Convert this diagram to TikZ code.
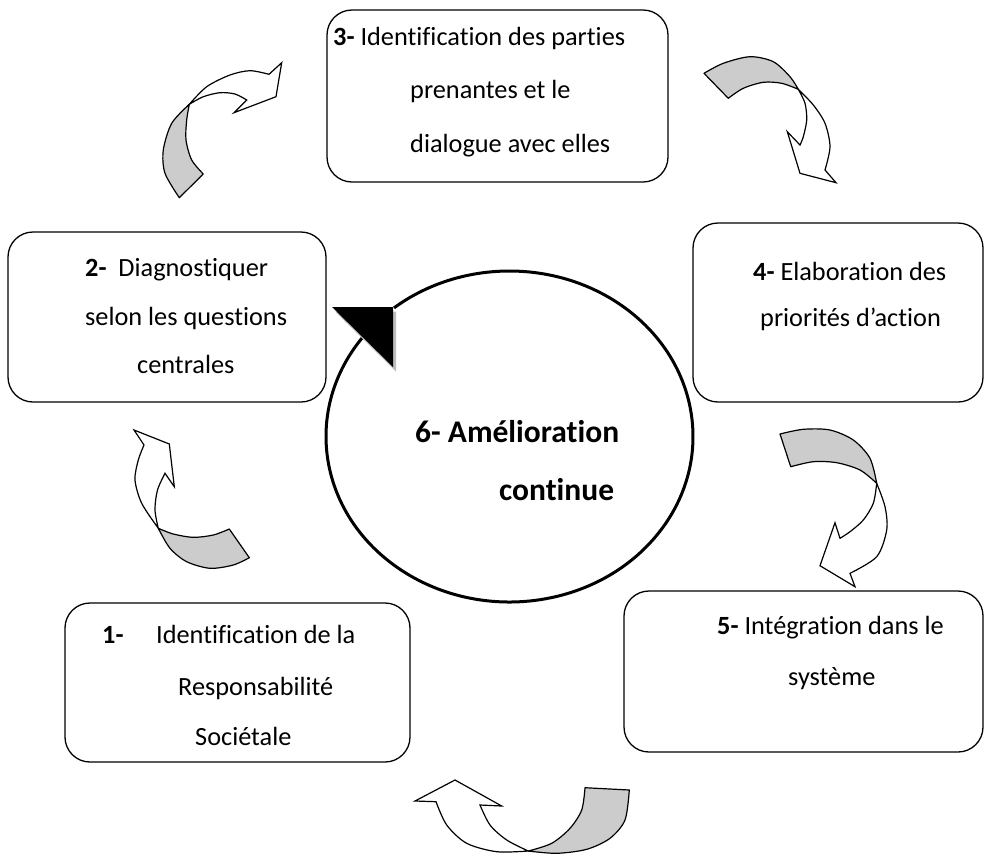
\documentclass[tikz,border=0pt]{standalone}
\usepackage{fontspec}
\setmainfont{Carlito}[Ligatures={NoCommon}]
\definecolor{backgray}{HTML}{CCCCCC}
\definecolor{shadowgray}{HTML}{BDBDBD}
\begin{document}
\begin{tikzpicture}[x=1pt, y=-1pt,
  stage/.style={draw, rounded corners=25pt, line width=1.3pt, inner sep=0pt},
  lbl/.style={anchor=base west, inner sep=0pt, font=\fontsize{26.3}{30}\selectfont},
  biglbl/.style={anchor=base west, inner sep=0pt, font=\fontsize{31.5}{36}\selectfont\bfseries},
  ring/.style={line width=3pt},
  bandback/.style={fill=backgray, draw, line width=1.2pt, line join=round},
  bandfront/.style={fill=white, draw, line width=1.2pt, line join=miter}]
\useasboundingbox (0,0) rectangle (985,855);

% stage boxes
\node[stage, minimum width=345pt, minimum height=159pt] (b1) at (237.5,682.5) {};
\node[stage, minimum width=318pt, minimum height=170pt] (b2) at (167,317) {};
\node[stage, minimum width=341pt, minimum height=172pt] (b3) at (497.5,96) {};
\node[stage, minimum width=290pt, minimum height=179pt] (b4) at (838,312.5) {};
\node[stage, minimum width=359pt, minimum height=161pt] (b5) at (803.5,671.5) {};

% central cycle with its arrowhead
\coordinate (c6) at (509.5,436.5);
\draw[ring] ([shift={(217.5:183.5 and 165.5)}]c6)
  arc[start angle=217.5, end angle=-129, x radius=183.5, y radius=165.5];
\fill[shadowgray, shift={(3,4.5)}] (332,307) -- (393,307) -- (393,367) -- cycle;
\fill[black] (332,307) -- (393,307) -- (393,367) -- cycle;

% curved arrow 2 -> 3
\path[bandback] plot[smooth] coordinates {(179.3,197.7) (165,173.3) (163.3,150) (171.7,123.3) (189.3,104.3)}
  -- plot[smooth] coordinates {(189.3,104.3) (186.7,120) (186,140) (191.7,160) (203.3,174)} -- cycle;
\path[bandfront] plot[smooth] coordinates {(189.3,104.3) (206.7,86.7) (230,75) (250,70.7) (269,74.3)}
  -- (281.7,62.7) -- (276,96.7) -- (234,112.7)
  -- plot[smooth] coordinates {(246.7,100) (235,94) (220,92.7) (203.3,96.7) (189.3,104.3)} -- cycle;

% curved arrow 3 -> 4
\path[bandback] plot[smooth] coordinates {(704,73.3) (723.3,63.3) (750,56.7) (773.3,61.7) (790,76.7) (798.3,89.3)}
  -- plot[smooth] coordinates {(798.3,89.3) (781.7,83.3) (763.3,82.3) (743.3,88.3) (728.3,98.3)} -- cycle;
\path[bandfront] plot[smooth] coordinates {(798.3,89.3) (813.3,105) (825,123.3) (830,146.7) (825,170)}
  -- (836,182.7) -- (800,173.3) -- (787.3,131.7)
  -- plot[smooth] coordinates {(800,145) (803.3,136.7) (806.7,120) (805,103.3) (798.3,89.3)} -- cycle;

% curved arrow 4 -> 5
\path[bandback] plot[smooth] coordinates {(780,434) (803.3,429.3) (830,430) (853.3,440) (870,458.3) (876.7,483.3)}
  -- plot[smooth] coordinates {(876.7,483.3) (860,470) (836.7,462.7) (813.3,461.7) (790.7,466.7)} -- cycle;
\path[bandfront] plot[smooth] coordinates {(876.7,483.3) (885,506.7) (886.7,530) (876.7,556.7) (850,573.3)}
  -- (855,586.7) -- (820,565.7) -- (835,522.7)
  -- plot[smooth] coordinates {(840,538.3) (850,531.7) (863.3,520) (873.3,503.3) (876.7,483.3)} -- cycle;

% curved arrow 5 -> 1
\path[bandback] plot[smooth] coordinates {(629.3,790) (625,820) (610,838.3) (586.7,849.3) (556.7,853.3) (528.3,851)}
  -- plot[smooth] coordinates {(528.3,851) (551.7,843.3) (570,828.3) (581.7,810) (585,787.7)} -- cycle;
\path[bandfront] plot[smooth] coordinates {(528.3,851) (496.7,851.7) (466.7,843.3) (446.7,825) (436,801.7)}
  -- (415,801) -- (455,780) -- (501.7,806)
  -- plot[smooth] coordinates {(480,805) (490,825) (506.7,840) (528.3,851)} -- cycle;

% curved arrow 1 -> 2
\path[bandback] plot[smooth] coordinates {(249.3,557.7) (233.3,565) (210,568.3) (186.7,561.7) (170,548.3) (158.3,528.3)}
  -- plot[smooth] coordinates {(158.3,528.3) (173.3,534) (193.3,537.3) (213.3,535) (229.3,529)} -- cycle;
\path[bandfront] plot[smooth] coordinates {(158.3,528.3) (141.7,503.3) (135,480) (138.3,460) (144,445)}
  -- (134,430) -- (169.3,444) -- (174.3,486.7)
  -- plot[smooth] coordinates {(165,473.3) (157.5,490) (155,510) (158.3,528.3)} -- cycle;

% labels
\node[lbl] (t3a) at (333,45) {\textbf{3-} Identification des parties};
\node[lbl] (t3b) at (410,98.3) {prenantes et le};
\node[lbl] (t3c) at (410,152.7) {dialogue avec elles};

\node[lbl] (t2a) at (85,276.7) {\textbf{2-}\ \ Diagnostiquer};
\node[lbl] (t2b) at (85,325) {selon les questions};
\node[lbl] (t2c) at (137,373.3) {centrales};

\node[lbl] (t4a) at (753,280.7) {\textbf{4-} Elaboration des};
\node[lbl] (t4b) at (760,326.7) {priorités d’action};

\node[lbl] (t5a) at (717,634) {\textbf{5-} Intégration dans le};
\node[lbl] (t5b) at (788,685) {système};

\node[lbl] (t1n) at (102,643.3) {\textbf{1-}};
\node[lbl] (t1a) at (156,643.3) {Identification de la};
\node[lbl] (t1b) at (178,695) {Responsabilité};
\node[lbl] (t1c) at (195,745) {Sociétale};

\node[biglbl] (t6a) at (415,442.7) {6- Amélioration};
\node[biglbl] (t6b) at (499,500) {continue};
\end{tikzpicture}
\end{document}
